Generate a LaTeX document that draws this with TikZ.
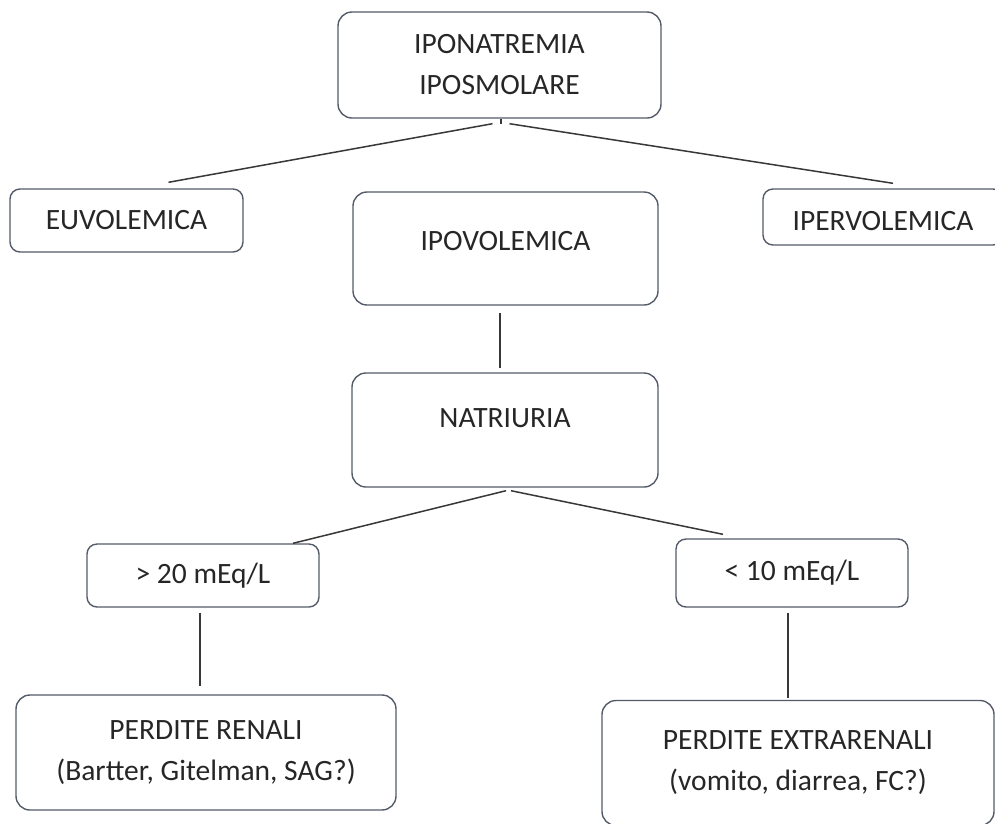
\documentclass[tikz,border=0pt]{standalone}
\usepackage{fontspec}
\setmainfont{Carlito}
\usetikzlibrary{positioning,calc}

\definecolor{boxline}{HTML}{545B68}
\definecolor{linkline}{HTML}{383838}
\definecolor{txt}{HTML}{262626}

\tikzset{
	box/.style={draw=boxline, line width=1.4pt, rounded corners=14pt, inner sep=0pt,
		align=center, text=txt, font=\fontsize{29.5}{41}\selectfont},
	smallbox/.style={box, rounded corners=10pt},
	link/.style={draw=linkline, line width=1.5pt}
}

\begin{document}
\begin{tikzpicture}[x=1pt,y=-1pt]
	\useasboundingbox (0,0) rectangle (995,823);
	\clip (0,0) rectangle (995,823);
	% boxes
	\node[box, minimum width=323pt, minimum height=106pt] (top) at (499.5,65) {IPONATREMIA\\IPOSMOLARE};
	\node[smallbox, minimum width=233pt, minimum height=63pt] (euvo) at (126.5,220.5) {EUVOLEMICA};
	\node[box, minimum width=305pt, minimum height=113pt, text depth=16pt] (ipovo) at (505.5,248.5) {IPOVOLEMICA};
	\node[smallbox, minimum width=240pt, minimum height=56pt, text height=27pt] (iperv) at (883,217) {IPERVOLEMICA};
	\node[box, minimum width=306pt, minimum height=114pt, text depth=24pt] (natri) at (505,430) {NATRIURIA};
	\node[smallbox, minimum width=232pt, minimum height=63pt] (gt20) at (203,575.5) {> 20 mEq/L};
	\node[smallbox, minimum width=232pt, minimum height=68pt] (lt10) at (792,573) {< 10 mEq/L};
	\node[box, minimum width=380pt, minimum height=115pt] (renal) at (206,752.5) {PERDITE RENALI\\(Bartter, Gitelman, SAG?)};
	\node[box, minimum width=392pt, minimum height=125pt] (extra) at (798,763) {PERDITE EXTRARENALI\\(vomito, diarrea, FC?)};
	% connectors
	\draw[link] ($(top.south)+(-7,5)$) -- ($(euvo.north)+(42,-6)$);
	\draw[link] ($(top.south)+(1.5,5)$) -- ($(top.south)+(1.5,0)$ |- ipovo.north);
	\draw[link] ($(top.south)+(10,5)$) -- ($(iperv.north)+(10,-5)$);
	\draw[link] ($(ipovo.south)+(-5.5,7)$) -- ($(natri.north)+(-5,-4)$);
	\draw[link] ($(natri.south)+(1,3)$) -- ($(gt20.north)+(90,0)$);
	\draw[link] ($(natri.south)+(6,3)$) -- ($(lt10.north)+(-69,-4)$);
	\draw[link] ($(gt20.south)+(-3,5)$) -- ($(renal.north)+(-6,-8)$);
	\draw[link] ($(lt10.south)+(-4,5)$) -- ($(extra.north)+(-10,-2)$);
\end{tikzpicture}
\end{document}
